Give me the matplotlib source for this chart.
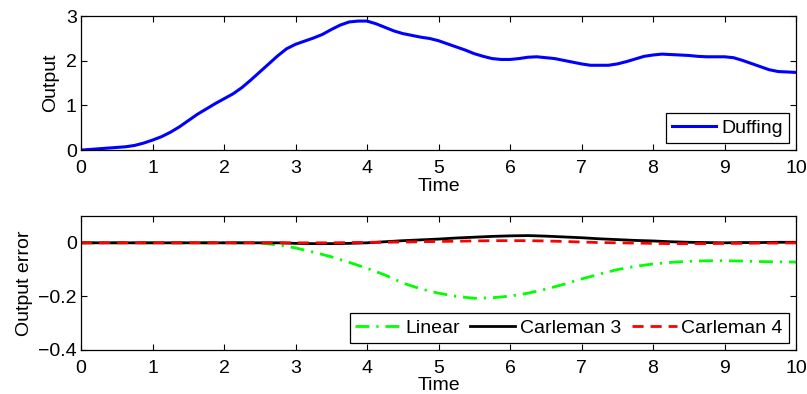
import numpy as np
import matplotlib
matplotlib.use("Agg")
import matplotlib.pyplot as plt

# =========================
# 数据
# =========================
time_fine = np.arange(0, 10.001, 0.125)
time_err = np.arange(0, 10.001, 0.25)

duffing = [0.000, 0.015, 0.030, 0.045, 0.060, 0.075, 0.105, 0.157,   # 0 - 0.875
           0.224, 0.300, 0.400, 0.520, 0.660, 0.800, 0.920, 1.040,   # 1 - 1.875
           1.150, 1.260, 1.400, 1.570, 1.750, 1.930, 2.110, 2.270,   # 2 - 2.875
           2.370, 2.440, 2.510, 2.590, 2.700, 2.800, 2.870, 2.890,   # 3 - 3.875
           2.890, 2.830, 2.750, 2.670, 2.610, 2.570, 2.530, 2.500,   # 4 - 4.875
           2.450, 2.380, 2.310, 2.240, 2.160, 2.100, 2.050, 2.030,   # 5 - 5.875
           2.030, 2.050, 2.080, 2.090, 2.070, 2.050, 2.010, 1.970,   # 6 - 6.875
           1.930, 1.900, 1.900, 1.900, 1.930, 1.980, 2.040, 2.100,   # 7 - 7.875
           2.130, 2.150, 2.140, 2.130, 2.120, 2.100, 2.090, 2.090,   # 8 - 8.875
           2.090, 2.070, 2.010, 1.940, 1.870, 1.800, 1.760, 1.750,   # 9 - 9.875
           1.740]

err_linear = [0, 0, 0, 0, 0, 0, 0, 0, 0, 0,
              0, -0.008, -0.019, -0.035, -0.052, -0.073, -0.095, -0.120, -0.150, -0.172,
              -0.188, -0.200, -0.207, -0.205, -0.199, -0.188, -0.173, -0.155, -0.135, -0.117,
              -0.100, -0.088, -0.079, -0.073, -0.069, -0.067, -0.067, -0.068, -0.070, -0.071,
              -0.072]

err_carleman3 = [0, 0, 0, 0, 0, 0, 0, 0, 0, 0,
                 0, 0, -0.002, -0.003, -0.003, -0.002, 0.000, 0.004, 0.008, 0.011,
                 0.014, 0.018, 0.021, 0.024, 0.026, 0.027, 0.025, 0.022, 0.019, 0.015,
                 0.012, 0.009, 0.007, 0.004, 0.002, 0.001, 0.000, 0.001, 0.001, 0.002,
                 0.002]

err_carleman4 = [0, 0, 0, 0, 0, 0, 0, 0, 0, 0,
                 0, 0, 0, 0, 0, 0.001, 0.002, 0.002, 0.003, 0.004,
                 0.005, 0.006, 0.007, 0.008, 0.008, 0.008, 0.007, 0.005, 0.003, 0.001,
                 0.000, -0.001, -0.002, -0.003, -0.003, -0.003, -0.002, -0.002, -0.001, -0.001,
                 0.000]

x_ticks = list(range(0, 11))
top_yticks = [0, 1, 2, 3]
bottom_yticks = [-0.4, -0.2, 0]
bottom_yticklabels = ["\u22120.4", "\u22120.2", "0"]

FS = 14
plt.rcParams["font.family"] = ["Liberation Sans", "DejaVu Sans"]
plt.rcParams["font.size"] = FS


def style_axes(ax):
    ax.tick_params(direction="in", top=True, right=True, length=4.5, width=0.8,
                   labelsize=FS)
    ax.tick_params(axis="x", pad=7)
    ax.tick_params(axis="y", pad=3)
    for sp in ax.spines.values():
        sp.set_linewidth(0.9)
    ax.set_xlim(0, 10)
    ax.set_xticks(x_ticks)
    ax.set_xlabel("Time", fontsize=FS, labelpad=0.5)


def add_legend(ax, ncol):
    leg = ax.legend(loc="lower right", ncol=ncol, fancybox=False, edgecolor="black",
                    framealpha=1, fontsize=FS, handlelength=2.3,
                    borderpad=0.3, handletextpad=0.25, columnspacing=0.55,
                    borderaxespad=0.38)
    leg.get_frame().set_linewidth(0.9)
    return leg


fig = plt.figure(figsize=(8.07, 3.94), dpi=100)

# 上图：Duffing 输出
ax1 = fig.add_axes([0.1004, 0.619, 0.886, 0.340])
ax1.plot(time_fine, duffing, color="#0000ff", linewidth=2.2, label="Duffing")
style_axes(ax1)
ax1.set_ylim(0, 3)
ax1.set_yticks(top_yticks)
ax1.set_ylabel("Output", fontsize=FS, labelpad=5)
add_legend(ax1, 1)

# 下图：输出误差
ax2 = fig.add_axes([0.1004, 0.1117, 0.886, 0.340])
ax2.plot(time_err, err_linear, color="#00ff00", linewidth=2.0,
         dashes=(5, 2.5, 0.8, 2.5), label="Linear")
ax2.plot(time_err, err_carleman3, color="black", linewidth=2.0, label="Carleman 3")
ax2.plot(time_err, err_carleman4, color="#ff0000", linewidth=2.0,
         dashes=(4, 2.5), label="Carleman 4")
style_axes(ax2)
ax2.set_ylim(-0.4, 0.1)
ax2.set_yticks(bottom_yticks)
ax2.set_yticklabels(bottom_yticklabels)
ax2.set_ylabel("Output error", fontsize=FS, labelpad=4)
add_legend(ax2, 3)

fig.savefig("out.png", dpi=100)
